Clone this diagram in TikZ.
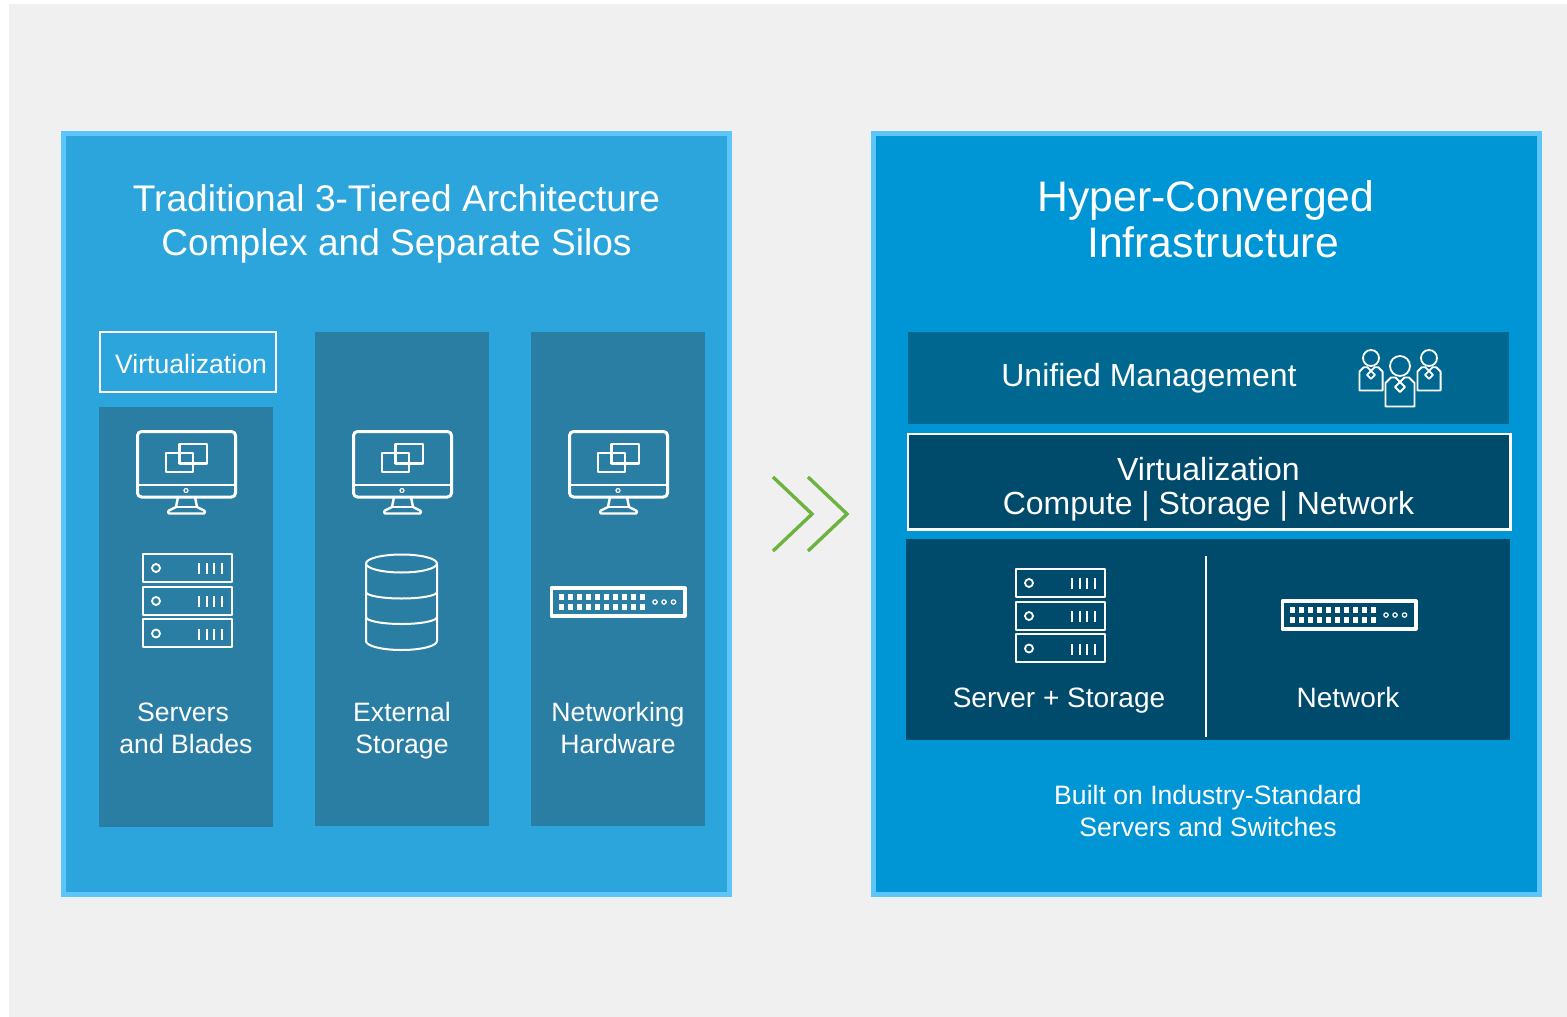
\documentclass[tikz,border=0pt]{standalone}
\usepackage{fontspec}
\setmainfont{Liberation Sans}
\definecolor{pagegray}{HTML}{F0F0F0}
\definecolor{panelrim}{HTML}{5CC6FA}
\definecolor{leftblue}{HTML}{2BA5DB}
\definecolor{rightblue}{HTML}{0095D5}
\definecolor{siloblue}{HTML}{2B7EA3}
\definecolor{mgmtblue}{HTML}{006890}
\definecolor{darkblue}{HTML}{004A6C}
\definecolor{chevron}{HTML}{6DB33F}
\tikzset{
  panel/.style={draw=panelrim, line width=5pt},
  label/.style={text=white, anchor=base, inner sep=0pt, font=\fontsize{#1}{#1}\selectfont},
  icon/.style={draw=white, line width=#1, line join=round},
  monitor/.pic={
    \draw[icon=3pt, rounded corners=4pt] (0.5,0.5) rectangle (98.5,66);
    \draw[icon=2.4pt] (0.5,54) -- (98.5,54);
    \draw[icon=1.2pt] (49,59.5) circle (2);
    \draw[icon=2.5pt] (29,22) rectangle (56,41);
    \draw[icon=2.5pt] (42.5,13) rectangle (70,32.5);
    \draw[icon=2.4pt] (41,66) -- (39,76) -- (32,79.5) -- (31,81) -- (32,82.5) -- (67,82.5) -- (68,81) -- (67,79.5) -- (60,76) -- (58,66);
    \draw[icon=1.8pt] (39,76) -- (60,76);
  },
  rack/.pic={
    \foreach \y in {0,33,65.5}{
      \draw[icon=2pt] (0.5,\y) rectangle (89.5,\y+28);
      \draw[icon=1.8pt] (14,\y+14.5) circle (4);
      \foreach \x in {57,64.5,72,80}
        \draw[icon=2pt] (\x,\y+9.5) -- (\x,\y+20.5);
    }
  },
  switchbox/.pic={
    \draw[icon=3.2pt] (1.5,1.5) rectangle (135,29.5);
    \foreach \x in {0,...,9}{
      \fill[white] (9+\x*8.95,7.5) rectangle ++(5,6);
      \fill[white] (9+\x*8.95,17.5) rectangle ++(5,6);
    }
    \foreach \x in {105,114,123.5}
      \draw[icon=1.2pt] (\x,15.5) circle (2.2);
  },
  person/.pic={
    \draw[icon=1.8pt] (0,0) circle (#1*10);
    \draw[icon=1.8pt] (-#1*14.5,#1*40.5) -- (-#1*14.5,#1*17) -- (-#1*9,#1*11.5) -- (-#1*4.5,#1*11.5) -- (0,#1*16) -- (#1*4.5,#1*11.5) -- (#1*9,#1*11.5) -- (#1*14.5,#1*17) -- (#1*14.5,#1*40.5) -- cycle;
    \draw[icon=1.8pt] (0,#1*16) -- (#1*5,#1*21) -- (0,#1*26) -- (-#1*5,#1*21) -- cycle;
  },
}
\begin{document}
\begin{tikzpicture}[x=1pt, y=-1pt]
  \useasboundingbox (0,0) rectangle (1567,1017);
  \fill[pagegray] (9,4) rectangle (1567,1017);
  % the two panels
  \draw[panel, fill=leftblue] (63.5,133.5) rectangle (729.5,894.5);
  \draw[panel, fill=rightblue] (873.5,133.5) rectangle (1539.5,894.5);
  % silos
  \fill[siloblue] (99,407) rectangle (273,827);
  \fill[siloblue] (315,332) rectangle (489,826);
  \fill[siloblue] (531,332) rectangle (705,826);
  \draw[white, line width=2pt] (100,332) rectangle (275.5,392);
  % layers
  \fill[mgmtblue] (908,332) rectangle (1509,424);
  \draw[white, line width=2.4pt, fill=darkblue] (908,434) rectangle (1510.5,529.5);
  \fill[darkblue] (906,539) rectangle (1510,740);
  \draw[white, line width=2pt] (1206,556) -- (1206,737);
  % chevrons
  \draw[chevron, line width=3.4pt] (773,477) -- (812,514) -- (773,551);
  \draw[chevron, line width=3.4pt] (808,477) -- (847,514) -- (808,551);
  % icons
  \pic at (137,431) {monitor};
  \pic at (353,431) {monitor};
  \pic at (569,431) {monitor};
  \pic at (142,553.5) {rack};
  \pic at (1015,568.5) {rack};
  \pic at (550,586.5) {switchbox};
  \pic at (1281,599.5) {switchbox};
  \draw[icon=2pt] (366,563.5) -- (366,641) arc (180:0:35.5 and 9) -- (437,563.5);
  \draw[icon=2pt] (401.5,563.5) ellipse (35.5 and 9);
  \draw[icon=2pt] (366,592) arc (180:0:35.5 and 6.5);
  \draw[icon=2pt] (366,617) arc (180:0:35.5 and 7);
  \pic at (1371,358) {person=0.8};
  \pic at (1429,358) {person=0.8};
  \pic at (1400,366) {person=1};
  % texts
  \node[label=37.1] (tiered) at (396.5,211) {Traditional 3-Tiered Architecture};
  \node[label=37.1] (silos) at (396.5,255) {Complex and Separate Silos};
  \node[label=42.7] (hyper) at (1206,211) {Hyper-Converged};
  \node[label=42.7] (infra) at (1213,257) {Infrastructure};
  \node[label=26.6] (virt) at (191,373) {Virtualization};
  \node[label=26.6] (servers) at (183,721) {Servers};
  \node[label=26.6] (blades) at (186,753) {and Blades};
  \node[label=26.6] (external) at (402,721) {External};
  \node[label=26.6] (storage) at (402,753) {Storage};
  \node[label=26.6] (networking) at (618,721) {Networking};
  \node[label=26.6] (hardware) at (618,753) {Hardware};
  \node[label=32] (unified) at (1149,386) {Unified Management};
  \node[label=32] (virtual) at (1208.5,480) {Virtualization};
  \node[label=32] (compute) at (1208.5,514) {Compute | Storage | Network};
  \node[label=28] (serverstore) at (1059,707) {Server + Storage};
  \node[label=28] (network) at (1348,707) {Network};
  \node[label=26.6] (built) at (1208,804) {Built on Industry-Standard};
  \node[label=26.6] (switches) at (1208,836) {Servers and Switches};
\end{tikzpicture}
\end{document}
